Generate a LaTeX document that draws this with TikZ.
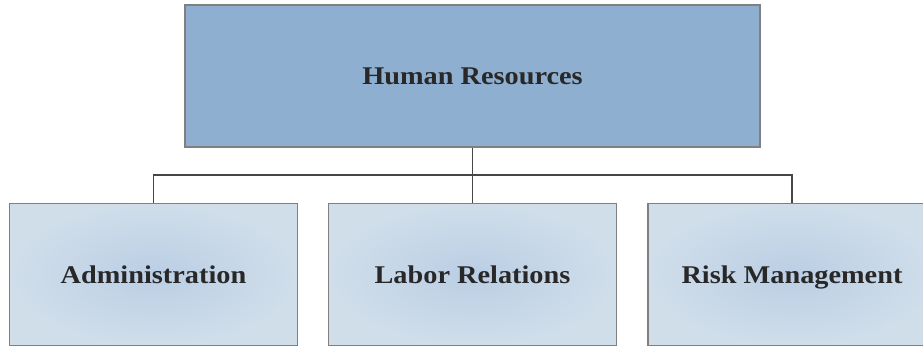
\documentclass[tikz,border=0pt]{standalone}
\usepackage{fontspec}
\setmainfont{Liberation Serif}
\definecolor{topfill}{RGB}{143,175,208}
\definecolor{boxedge}{RGB}{128,128,128}
\definecolor{subouter}{RGB}{208,222,234}
\definecolor{subinner}{RGB}{186,206,228}
\definecolor{txt}{RGB}{40,40,40}
\definecolor{linec}{RGB}{70,70,70}
\tikzset{
  lbl/.style={text=txt, text height=17.6pt, text depth=0pt, font=\fontsize{25.5}{28}\selectfont\bfseries},
  topbox/.style={lbl, draw=boxedge, line width=1.6pt, fill=topfill, minimum width=575pt, minimum height=142pt, inner sep=0pt},
  subbox/.style={lbl, draw=boxedge, line width=1.6pt, inner color=subinner, outer color=subouter, minimum width=288pt, minimum height=142pt, inner sep=0pt},
  conn/.style={draw=linec, line width=1.8pt}
}
\begin{document}
\begin{tikzpicture}[x=1pt,y=-1pt]
\useasboundingbox (0,0) rectangle (923,347);
\begin{scope}
\clip (0,0) rectangle (923,347);
\node[topbox] (hr) at (472.5,76) {\scalebox{1.11}[1]{Human Resources}};
\node[subbox] (adm) at (153.5,274.5) {\scalebox{1.11}[1]{Administration}};
\node[subbox] (lab) at (472.5,274.5) {\scalebox{1.11}[1]{Labor Relations}};
\node[subbox] (risk) at (792,274.5) {\scalebox{1.11}[1]{Risk Management}};
\end{scope}
\coordinate (bus) at (472.5,175);
\draw[conn] (hr.south) -- (bus);
\draw[conn] (adm.north) |- (bus) -| (risk.north);
\draw[conn] (lab.north) -- (bus);
\end{tikzpicture}
\end{document}
